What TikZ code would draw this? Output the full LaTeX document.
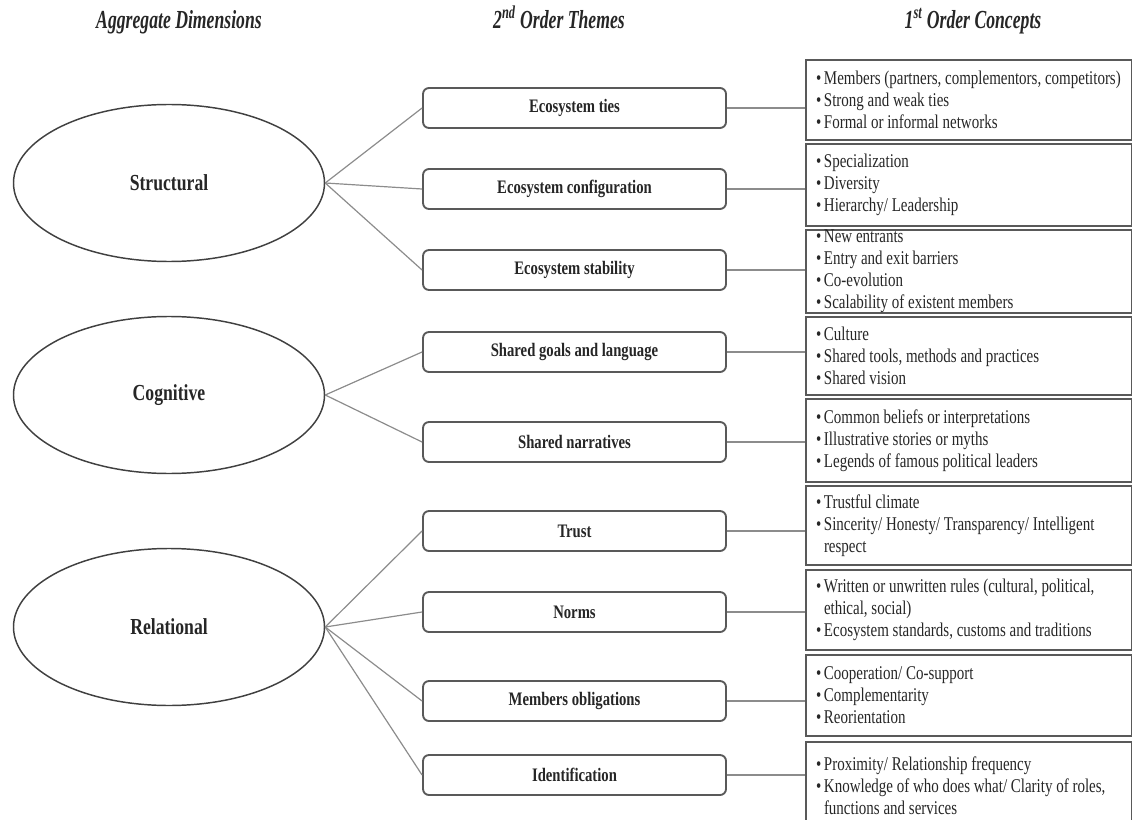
\documentclass[tikz,border=0pt]{standalone}
\usepackage{fontspec}
\setmainfont{Liberation Serif}[FakeStretch=0.77]
\newfontfamily\headfont{Liberation Serif}[FakeStretch=0.68]
\usetikzlibrary{shapes.geometric}

% one drawing unit = one pixel of the 1132 x 820 canvas
\newdimen\px \px=0.75pt

% bullet line and continuation line of a concept list (full panel width)
\newcommand\bitem[1]{\hbox to 306\px{\makebox[8\px][l]{\textbullet}#1\hss}}
\newcommand\citem[1]{\hbox to 306\px{\hspace*{8\px}#1\hss}}
% fixed-size list panel, content centred vertically
\newcommand\concepts[2]{\parbox[c][#1\px][c]{306\px}{#2}}

\tikzset{
  head/.style={text=black!85, inner sep=0, anchor=base,
    font=\headfont\bfseries\itshape\fontsize{19.5}{22}\selectfont},
  dimension/.style={ellipse, draw=black!75, line width=1.1pt, inner sep=0,
    minimum width=311\px, minimum height=157\px, text=black!85,
    font=\bfseries\fontsize{17.2}{20}\selectfont},
  theme/.style={draw=black!65, line width=1.4pt, rounded corners=6\px,
    minimum width=303\px, minimum height=40\px, inner sep=0, text=black!85,
    font=\bfseries\fontsize{14.3}{16}\selectfont},
  concept/.style={draw=black!65, line width=1.5pt, anchor=north west,
    inner xsep=10\px, inner ysep=0, minimum width=326\px, text=black!85,
    font=\fontsize{14.6}{16.5}\selectfont},
  link/.style={draw=black!45, line width=0.9pt},
}

\begin{document}
\begin{tikzpicture}[x=1\px, y=-1\px]
\useasboundingbox (0,0) rectangle (1132,820);

% column headings, on a common baseline
\node[head] (h1) at (179,29) {Aggregate Dimensions};
\node[head] (h2) at (559,29) {2\textsuperscript{nd} Order Themes};
\node[head] (h3) at (973,29) {1\textsuperscript{st} Order Concepts};

% aggregate dimensions
\node[dimension] (s) at (169,183) {Structural};
\node[dimension] (g) at (169,395) {Cognitive};
\node[dimension] (r) at (169,627) {Relational};

% second-order themes
\node[theme] (t1) at (574.5,108) {Ecosystem ties};
\node[theme] (t2) at (574.5,189) {Ecosystem configuration};
\node[theme] (t3) at (574.5,270) {Ecosystem stability};
\node[theme] (t4) at (574.5,352) {Shared goals and language};
\node[theme] (t5) at (574.5,442) {Shared narratives};
\node[theme] (t6) at (574.5,531) {Trust};
\node[theme] (t7) at (574.5,612) {Norms};
\node[theme] (t8) at (574.5,701) {Members obligations};
\node[theme] (t9) at (574.5,775) {Identification};

% first-order concepts
\node[concept] (c1) at (805,59) {\concepts{80}{%
  \bitem{Members (partners, complementors, competitors)}
  \bitem{Strong and weak ties}
  \bitem{Formal or informal networks}}};
\node[concept] (c2) at (805,143) {\concepts{82}{%
  \bitem{Specialization}
  \bitem{Diversity}
  \bitem{Hierarchy/ Leadership}}};
\node[concept] (c3) at (805,229) {\concepts{83}{%
  \bitem{New entrants}
  \bitem{Entry and exit barriers}
  \bitem{Co-evolution}
  \bitem{Scalability of existent members}}};
\node[concept] (c4) at (805,316) {\concepts{78}{%
  \bitem{Culture}
  \bitem{Shared tools, methods and practices}
  \bitem{Shared vision}}};
\node[concept] (c5) at (805,398) {\concepts{83}{%
  \bitem{Common beliefs or interpretations}
  \bitem{Illustrative stories or myths}
  \bitem{Legends of famous political leaders}}};
\node[concept] (c6) at (805,485) {\concepts{79}{%
  \bitem{Trustful climate}
  \bitem{Sincerity/ Honesty/ Transparency/ Intelligent}
  \citem{respect}}};
\node[concept] (c7) at (805,569) {\concepts{80}{%
  \bitem{Written or unwritten rules (cultural, political,}
  \citem{ethical, social)}
  \bitem{Ecosystem standards, customs and traditions}}};
\node[concept] (c8) at (805,654) {\concepts{81}{%
  \bitem{Cooperation/ Co-support}
  \bitem{Complementarity}
  \bitem{Reorientation}}};
\node[concept] (c9) at (805,741) {\concepts{88}{%
  \bitem{Proximity/ Relationship frequency}
  \bitem{Knowledge of who does what/ Clarity of roles,}
  \citem{functions and services}}};

% dimension -> theme links
\draw[link] (s.east) -- (t1.west);
\draw[link] (s.east) -- (t2.west);
\draw[link] (s.east) -- (t3.west);
\draw[link] (g.east) -- (t4.west);
\draw[link] (g.east) -- (t5.west);
\draw[link] (r.east) -- (t6.west);
\draw[link] (r.east) -- (t7.west);
\draw[link] (r.east) -- (t8.west);
\draw[link] (r.east) -- (t9.west);

% theme -> concept links
\foreach \i in {1,...,9}
  \draw[link] (t\i.east) -- (t\i.east -| c\i.west);
\end{tikzpicture}
\end{document}
